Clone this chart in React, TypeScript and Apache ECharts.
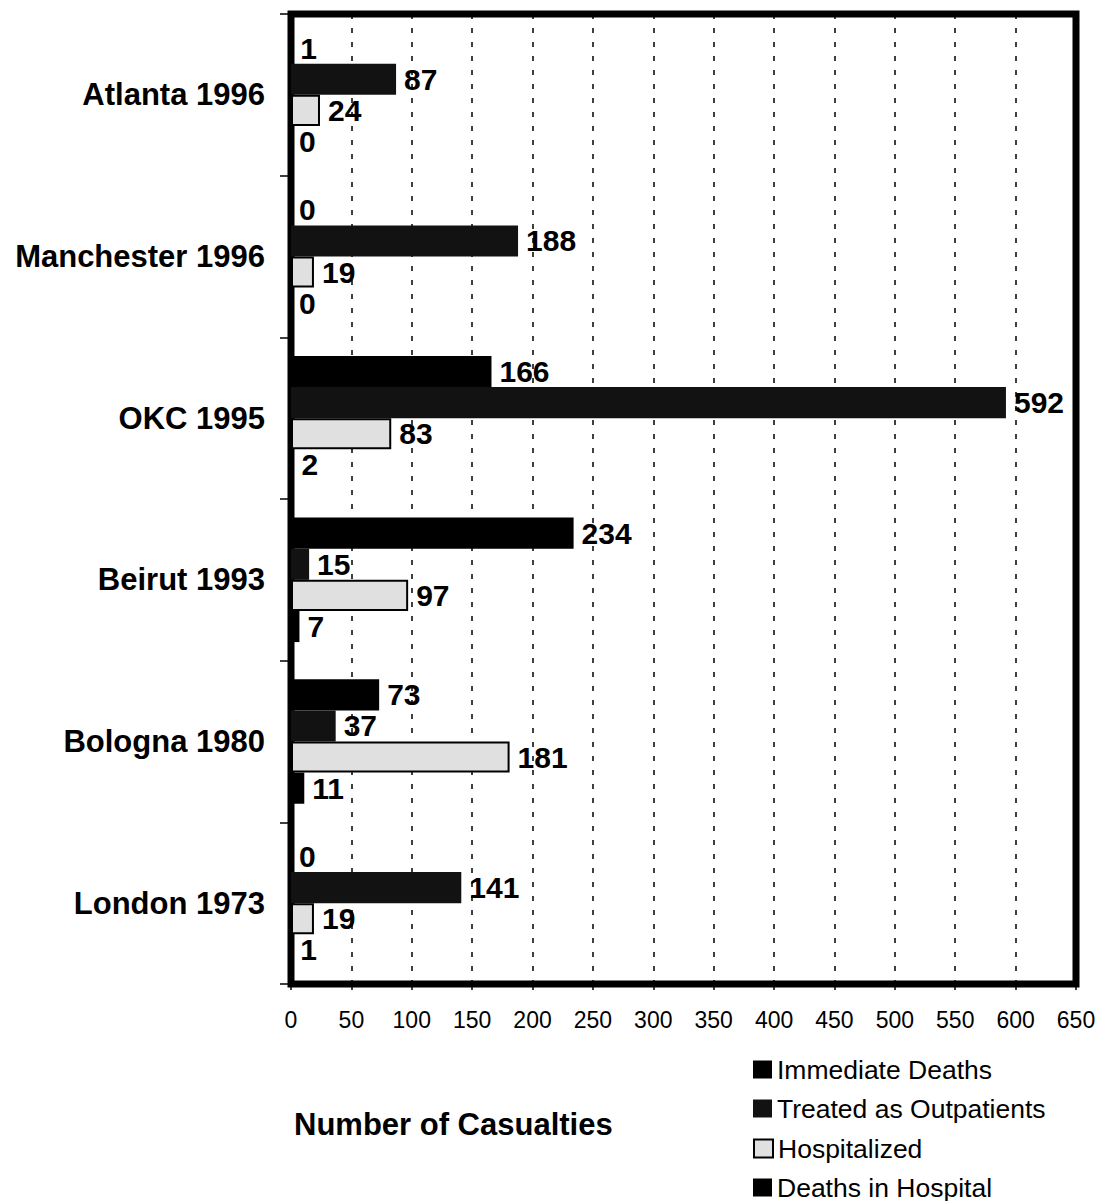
import React, { useEffect, useRef } from "react";
import * as echarts from "echarts";

const categories = [
  "Atlanta 1996",
  "Manchester 1996",
  "OKC 1995",
  "Beirut 1993",
  "Bologna 1980",
  "London 1973",
];
const immediateDeaths = [1, 0, 166, 234, 73, 0];
const treatedAsOutpatients = [87, 188, 592, 15, 37, 141];
const hospitalized = [24, 19, 83, 97, 181, 19];
const deathsInHospital = [0, 0, 2, 7, 11, 1];
const seriesNames = [
  "Immediate Deaths",
  "Treated as Outpatients",
  "Hospitalized",
  "Deaths in Hospital",
];
const xMin = 0;
const xMax = 650;
const xStep = 50;
const axisTitle = "Number of Casualties";

const FONT = "'Liberation Sans', Arial, Helvetica, sans-serif";

export default function App() {
  const ref = useRef<HTMLDivElement>(null);

  useEffect(() => {
    if (!ref.current) return;
    const chart = echarts.init(ref.current, undefined, { renderer: "svg" });

    const label = {
      show: true,
      position: "right",
      distance: 8,
      color: "#000",
      fontFamily: FONT,
      fontWeight: "bold",
      fontSize: 30,
    };

    const styles = [
      { color: "#000000", borderColor: "#000000", borderWidth: 0 },
      { color: "#121212", borderColor: "#000000", borderWidth: 0 },
      { color: "#e0e0e0", borderColor: "#000000", borderWidth: 2 },
      { color: "#000000", borderColor: "#000000", borderWidth: 0 },
    ];
    const values = [immediateDeaths, treatedAsOutpatients, hospitalized, deathsInHospital];

    const series = seriesNames.map((name, i) => ({
      name,
      type: "bar",
      data: values[i],
      barGap: "0%",
      barCategoryGap: "23%",
      itemStyle: styles[i],
      label,
      z: 2,
    }));

    const legendRowTop = 1056;
    const legendRowStep = 39.3;
    const legends = seriesNames.map((name, i) => ({
      orient: "vertical",
      left: 753,
      top: Math.round(legendRowTop + i * legendRowStep),
      padding: 0,
      itemWidth: 19,
      itemHeight: 18,
      itemGap: 0,
      icon: "rect",
      selectedMode: false,
      data: [name],
      textStyle: {
        fontFamily: FONT,
        fontSize: 26.5,
        lineHeight: 27,
        color: "#000",
      },
    }));

    chart.setOption({
      animation: false,
      backgroundColor: "#ffffff",
      textStyle: { fontFamily: FONT },
      title: {
        text: axisTitle,
        left: 294,
        top: 1109,
        padding: 0,
        textStyle: {
          fontFamily: FONT,
          fontWeight: "bold",
          fontSize: 31,
          color: "#000",
        },
      },
      legend: legends,
      grid: {
        left: 291,
        right: 26,
        top: 14,
        bottom: 217,
        show: true,
        borderWidth: 7,
        borderColor: "#000",
        backgroundColor: "transparent",
        containLabel: false,
      },
      xAxis: {
        type: "value",
        min: xMin,
        max: xMax,
        interval: xStep,
        axisLine: { show: false },
        axisTick: {
          show: true,
          length: 6,
          inside: false,
          lineStyle: { color: "#000", width: 1.5 },
        },
        axisLabel: {
          show: true,
          margin: 24,
          color: "#000",
          fontFamily: FONT,
          fontSize: 23,
        },
        splitLine: {
          show: true,
          lineStyle: { color: "#000", width: 1.5, type: [5, 9] },
        },
      },
      yAxis: {
        type: "category",
        data: categories,
        inverse: true,
        axisLine: { show: false },
        axisTick: {
          show: true,
          length: 11,
          inside: false,
          lineStyle: { color: "#000", width: 1.5 },
        },
        axisLabel: {
          margin: 26,
          color: "#000",
          fontFamily: FONT,
          fontWeight: "bold",
          fontSize: 31,
        },
        splitLine: { show: false },
      },
      series,
    });

    return () => {
      chart.dispose();
    };
  }, []);

  return (
    <div
      ref={ref}
      style={{
        position: "absolute",
        left: 0,
        top: 0,
        width: 1102,
        height: 1201,
        background: "#fff",
      }}
    />
  );
}
